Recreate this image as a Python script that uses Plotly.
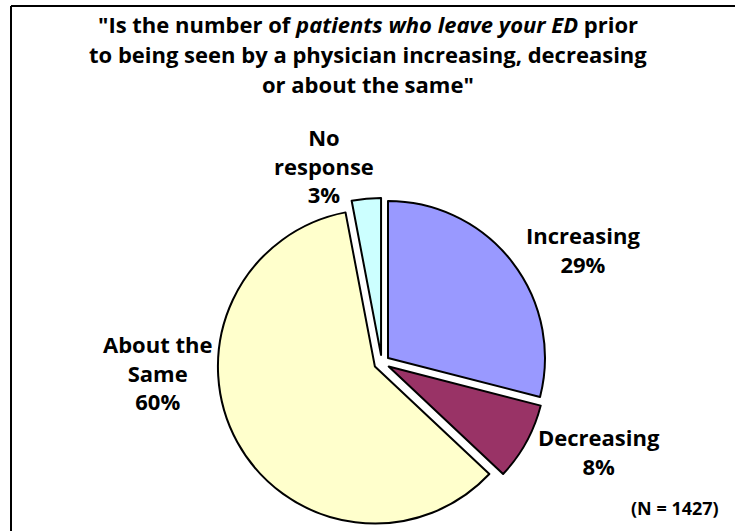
import plotly.graph_objects as go

# ---- data ----
categories = ["Increasing", "Decreasing", "About the Same", "No response"]
label_lines = ["Increasing", "Decreasing", "About the<br>Same", "No<br>response"]
values = [29, 8, 60, 3]
colors = ["#9999FF", "#993366", "#FFFFCC", "#CCFFFF"]
title_lines = [
    '"Is the number of <i>patients who leave your ED</i> prior',
    "to being seen by a physician increasing, decreasing",
    'or about the same"',
]
note = "(N = 1427)"

W, H = 735, 531
FONT = "Open Sans, Liberation Sans, Arial, sans-serif"

fig = go.Figure()
fig.add_trace(go.Pie(
    labels=categories,
    values=values,
    sort=False,
    direction="clockwise",
    rotation=0,
    pull=[0.05] * len(values),
    marker=dict(colors=colors, line=dict(color="black", width=2)),
    textinfo="none",
    hoverinfo="label+percent",
    domain=dict(x=[0.2952, 0.7437], y=[0.0063, 0.6272]),
    showlegend=False,
))

# label positions (pixel centres of label blocks)
label_pos = [(583, 249), (599, 451), (157, 372), (324, 166)]
annotations = []
for lab, v, (px, py) in zip(label_lines, values, label_pos):
    annotations.append(dict(
        x=px / W, y=1 - py / H, xref="paper", yref="paper",
        text=f"<b>{lab}<br>{v}%</b>", showarrow=False,
        xanchor="center", yanchor="middle", align="center",
        font=dict(family=FONT, size=22, color="black"),
    ))

for i, line in enumerate(title_lines):
    annotations.append(dict(
        x=0.5, y=1 - (24 + 30 * i) / H, xref="paper", yref="paper",
        text=f"<b>{line}</b>", showarrow=False,
        xanchor="center", yanchor="middle",
        font=dict(family=FONT, size=22, color="black"),
    ))

annotations.append(dict(
    x=675 / W, y=1 - 508 / H, xref="paper", yref="paper",
    text=f"<b>{note}</b>", showarrow=False,
    xanchor="center", yanchor="middle",
    font=dict(family=FONT, size=18, color="black"),
))

frame_x = 11 / W
frame_top = 1 - 6 / H
fig.update_layout(
    width=W, height=H,
    margin=dict(l=0, r=0, t=0, b=0),
    paper_bgcolor="white", plot_bgcolor="white",
    annotations=annotations,
    shapes=[
        dict(type="line", xref="paper", yref="paper",
             x0=frame_x, x1=1.02, y0=frame_top, y1=frame_top,
             line=dict(color="black", width=2)),
        dict(type="line", xref="paper", yref="paper",
             x0=frame_x, x1=frame_x, y0=-0.02, y1=frame_top,
             line=dict(color="black", width=2)),
    ],
)

fig.write_html(
    "out.html",
    config={"displayModeBar": False},
    post_script=(
        "document.documentElement.style.margin='0px';"
        "document.documentElement.style.overflow='hidden';"
        "document.body.style.margin='0px';"
        "document.body.style.overflow='hidden';"
    ),
)
